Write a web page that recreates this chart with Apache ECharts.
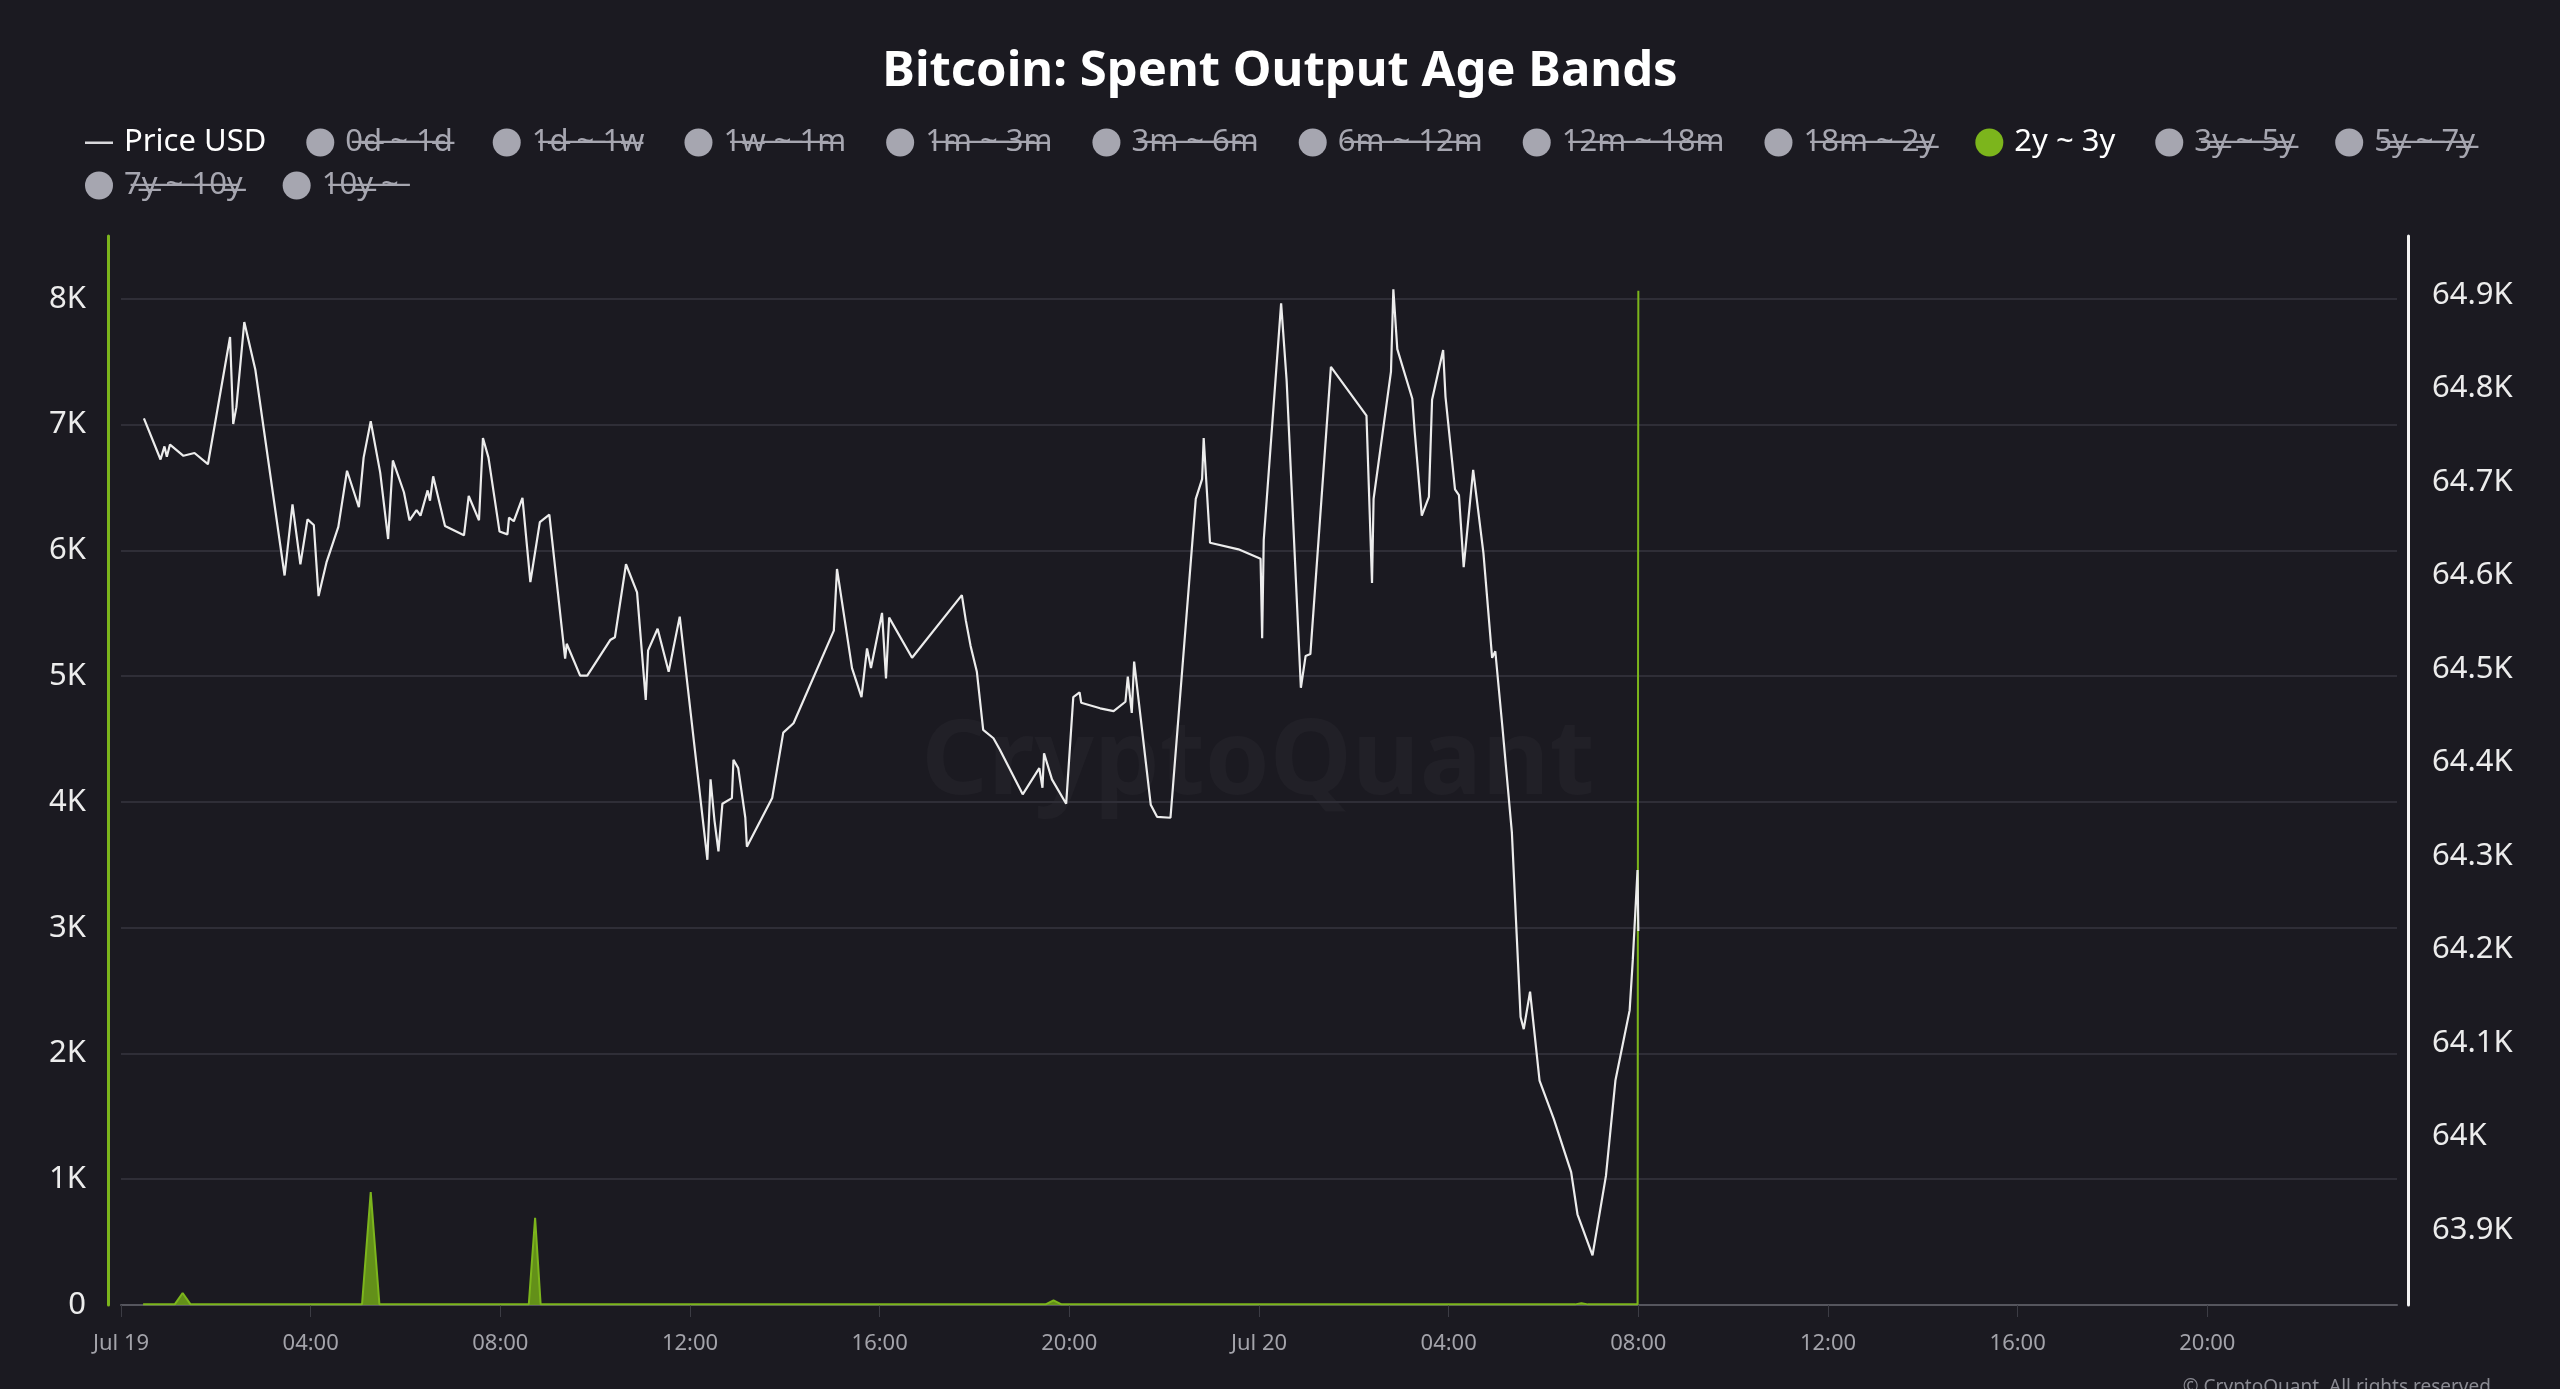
<!DOCTYPE html>
<html>
<head>
<meta charset="utf-8">
<title>Bitcoin: Spent Output Age Bands</title>
<script src="https://cdn.jsdelivr.net/npm/echarts@6/dist/echarts.min.js"></script>
<style>
  html, body { margin: 0; padding: 0; background: #1b1a21; }
  #main { width: 2560px; height: 1389px; }
</style>
</head>
<body>
<div id="main"></div>
<script>
// price samples, times are local, year 2024
var priceTimes = [
  '07-19 00:29','07-19 00:50','07-19 00:55','07-19 00:58','07-19 01:02','07-19 01:19','07-19 01:33','07-19 01:50',
  '07-19 02:18','07-19 02:22','07-19 02:26','07-19 02:36','07-19 02:50','07-19 03:27','07-19 03:37','07-19 03:47',
  '07-19 03:56','07-19 04:04','07-19 04:10','07-19 04:20','07-19 04:35','07-19 04:46','07-19 05:01','07-19 05:07',
  '07-19 05:16','07-19 05:28','07-19 05:38','07-19 05:44','07-19 05:58','07-19 06:05','07-19 06:14','07-19 06:19',
  '07-19 06:28','07-19 06:31','07-19 06:35','07-19 06:50','07-19 07:14','07-19 07:20','07-19 07:33','07-19 07:38',
  '07-19 07:45','07-19 07:59','07-19 08:09','07-19 08:11','07-19 08:17','07-19 08:28','07-19 08:38','07-19 08:50',
  '07-19 09:02','07-19 09:22','07-19 09:24','07-19 09:41','07-19 09:50','07-19 10:19','07-19 10:25','07-19 10:39',
  '07-19 10:53','07-19 11:04','07-19 11:07','07-19 11:19','07-19 11:33','07-19 11:47','07-19 12:22','07-19 12:26',
  '07-19 12:31','07-19 12:36','07-19 12:41','07-19 12:53','07-19 12:55','07-19 13:01','07-19 13:10','07-19 13:12',
  '07-19 13:44','07-19 13:58','07-19 14:11','07-19 15:02','07-19 15:06','07-19 15:25','07-19 15:37','07-19 15:44',
  '07-19 15:49','07-19 16:03','07-19 16:08','07-19 16:12','07-19 16:41','07-19 17:44','07-19 17:49','07-19 17:55',
  '07-19 18:03','07-19 18:11','07-19 18:24','07-19 18:32','07-19 19:01','07-19 19:22','07-19 19:26','07-19 19:28',
  '07-19 19:38','07-19 19:56','07-19 20:05','07-19 20:13','07-19 20:15','07-19 20:39','07-19 20:56','07-19 21:11',
  '07-19 21:14','07-19 21:19','07-19 21:22','07-19 21:43','07-19 21:51','07-19 22:08','07-19 22:40','07-19 22:48',
  '07-19 22:50','07-19 22:58','07-19 23:34','07-20 00:02','07-20 00:04','07-20 00:06','07-20 00:28','07-20 00:35',
  '07-20 00:53','07-20 00:59','07-20 01:05','07-20 01:31','07-20 02:16','07-20 02:23','07-20 02:25','07-20 02:47',
  '07-20 02:50','07-20 02:55','07-20 03:14','07-20 03:17','07-20 03:26','07-20 03:35','07-20 03:39','07-20 03:53',
  '07-20 03:56','07-20 04:08','07-20 04:13','07-20 04:19','07-20 04:31','07-20 04:44','07-20 04:55','07-20 04:59',
  '07-20 05:08','07-20 05:20','07-20 05:26','07-20 05:31','07-20 05:35','07-20 05:43','07-20 05:55','07-20 06:13',
  '07-20 06:35','07-20 06:43','07-20 07:02','07-20 07:19','07-20 07:31','07-20 07:49','07-20 07:53','07-20 07:59',
  '07-20 08:00'
];
var priceValues = [
  64768,64724,64738,64727,64740,64728,64731,64719,
  64855,64762,64780,64871,64820,64600,64676,64612,
  64660,64654,64578,64614,64652,64712,64673,64726,
  64765,64710,64639,64723,64689,64659,64670,64664,
  64691,64680,64706,64653,64643,64685,64659,64747,
  64726,64647,64644,64662,64658,64683,64593,64657,
  64665,64511,64527,64493,64493,64531,64534,64612,
  64582,64467,64520,64543,64497,64556,64296,64382,
  64338,64305,64356,64362,64403,64394,64341,64310,
  64362,64432,64442,64541,64607,64501,64470,64522,
  64501,64560,64490,64555,64512,64579,64552,64525,
  64497,64435,64426,64414,64366,64394,64373,64410,
  64382,64356,64470,64475,64464,64458,64455,64465,
  64492,64453,64508,64355,64342,64341,64682,64703,
  64747,64635,64628,64618,64533,64638,64891,64808,
  64480,64514,64516,64823,64771,64592,64682,64818,
  64906,64842,64789,64754,64664,64684,64788,64841,
  64791,64692,64686,64609,64713,64624,64512,64519,
  64438,64325,64217,64128,64115,64155,64060,64019,
  63962,63917,63873,63958,64060,64135,64189,64285,
  64220
];

// 2y ~ 3y spent outputs (BTC)
var bandTimes = [
  '07-19 00:28','07-19 01:08','07-19 01:18','07-19 01:28','07-19 05:05','07-19 05:16','07-19 05:27',
  '07-19 08:36','07-19 08:44','07-19 08:51','07-19 19:30','07-19 19:40','07-19 19:50',
  '07-20 06:40','07-20 06:48','07-20 06:56','07-20 07:59','07-20 08:00'
];
var bandValues = [5,5,95,5,5,898,5,5,694,5,5,37,5,5,15,5,5,8065];

var bandNames = ['0d ~ 1d','1d ~ 1w','1w ~ 1m','1m ~ 3m','3m ~ 6m','6m ~ 12m','12m ~ 18m',
  '18m ~ 2y','2y ~ 3y','3y ~ 5y','5y ~ 7y','7y ~ 10y','10y ~'];
var shownBand = '2y ~ 3y';

var leftTicks = { min: 0, max: 8500, interval: 1000 };
var rightRange = { min: 63820, max: 64963 };
var xRange = ['2024-07-19 00:00', '2024-07-21 00:00'];

var MONTHS = ['Jan','Feb','Mar','Apr','May','Jun','Jul','Aug','Sep','Oct','Nov','Dec'];
var FONT = "'Noto Sans', 'Open Sans', sans-serif";
var GREEN = '#7cb51c';
// thin horizontal dash, the extra moveTo points keep the icon box square
var LINE_ICON = 'path://M0,0M0,13L28,13L28,15.5L0,15.5ZM28,28';

function pairs(times, vals) {
  return times.map(function (t, i) { return ['2024-' + t, vals[i]]; });
}
function strike(s) {
  return s.split('').map(function (c) { return c + '\u0336'; }).join('');
}
function kFmt(v) {
  if (v === 0) return '0';
  return parseFloat((v / 1000).toFixed(2)) + 'K';
}

var myChart = echarts.init(document.getElementById('main'));

var series = [{
  name: 'Price USD',
  type: 'line',
  yAxisIndex: 1,
  showSymbol: false,
  symbol: 'none',
  z: 3,
  lineStyle: { color: '#ececec', width: 2.2 },
  itemStyle: { color: '#d8d8dc' },
  data: pairs(priceTimes, priceValues)
}];
bandNames.forEach(function (n) {
  var on = n === shownBand;
  series.push({
    name: n,
    type: 'line',
    yAxisIndex: 0,
    showSymbol: false,
    symbol: 'none',
    z: 2,
    lineStyle: { color: GREEN, width: 2 },
    itemStyle: { color: GREEN },
    areaStyle: { color: '#6c9d18', opacity: 0.9 },
    data: on ? pairs(bandTimes, bandValues) : []
  });
});

var selected = {};
bandNames.forEach(function (n) { selected[n] = n === shownBand; });

var option = {
  backgroundColor: '#1b1a21',
  animation: false,
  textStyle: { fontFamily: FONT },
  title: {
    text: 'Bitcoin: Spent Output Age Bands',
    left: 'center',
    top: 43,
    textStyle: { color: '#ffffff', fontSize: 49, fontWeight: 'bold', fontFamily: FONT }
  },
  legend: {
    left: 80,
    right: 30,
    top: 122,
    itemWidth: 28,
    itemHeight: 28,
    itemGap: 12,
    inactiveColor: '#a6a6b0',
    selected: selected,
    data: [{ name: 'Price USD', icon: LINE_ICON }].concat(bandNames.map(function (n) { return { name: n, icon: 'circle' }; })),
    formatter: function (name) {
      if (name === 'Price USD' || name === shownBand) return name;
      return strike(name);
    },
    textStyle: {
      color: '#ffffff',
      fontSize: 31,
      fontFamily: FONT,
      lineHeight: 25,
      padding: [0, 28, 0, 6]
    }
  },
  grid: { left: 121, right: 163, top: 236, bottom: 84 },
  xAxis: {
    type: 'time',
    min: xRange[0],
    max: xRange[1],
    minInterval: 4 * 3600 * 1000,
    maxInterval: 4 * 3600 * 1000,
    splitNumber: 12,
    axisLine: { lineStyle: { color: '#56565e', width: 2 } },
    axisTick: { show: true, length: 12, lineStyle: { color: '#3c3c44' } },
    splitLine: { show: false },
    axisLabel: {
      color: '#a3a3aa',
      fontSize: 22,
      fontFamily: FONT,
      margin: 28,
      hideOverlap: false,
      formatter: function (val) {
        var d = new Date(val);
        if (d.getHours() === 0 && d.getMinutes() === 0) return MONTHS[d.getMonth()] + ' ' + d.getDate();
        var h = d.getHours(), m = d.getMinutes();
        return (h < 10 ? '0' : '') + h + ':' + (m < 10 ? '0' : '') + m;
      }
    }
  },
  yAxis: [{
    type: 'value',
    position: 'left',
    offset: 13,
    min: leftTicks.min,
    max: leftTicks.max,
    interval: leftTicks.interval,
    axisLine: { show: true, lineStyle: { color: GREEN, width: 3 } },
    axisTick: { show: false },
    splitLine: { show: true, showMaxLine: false, lineStyle: { color: '#2f2e37', width: 2 } },
    axisLabel: {
      color: '#ececec', fontSize: 31, fontFamily: FONT, margin: 22,
      showMaxLabel: false, formatter: kFmt
    }
  }, {
    type: 'value',
    position: 'right',
    offset: 11,
    min: rightRange.min,
    max: rightRange.max,
    splitNumber: 10,
    axisLine: { show: true, lineStyle: { color: '#f2f2f2', width: 3 } },
    axisTick: { show: false },
    splitLine: { show: false },
    axisLabel: {
      color: '#ececec', fontSize: 31, fontFamily: FONT, margin: 24,
      showMinLabel: false, showMaxLabel: false, formatter: kFmt
    }
  }],
  graphic: [{
    type: 'text',
    x: 1258,
    y: 764,
    z: 0,
    silent: true,
    style: {
      text: 'CryptoQuant',
      fill: 'rgba(255,255,255,0.028)',
      font: "bold 104px " + FONT,
      textAlign: 'center',
      textVerticalAlign: 'middle'
    }
  }, {
    type: 'text',
    right: 64,
    bottom: -8,
    silent: true,
    style: {
      text: '\u00a9 CryptoQuant. All rights reserved.',
      fill: '#8a8a92',
      font: '19px ' + FONT
    }
  }],
  series: series
};

myChart.setOption(option);
</script>
</body>
</html>
